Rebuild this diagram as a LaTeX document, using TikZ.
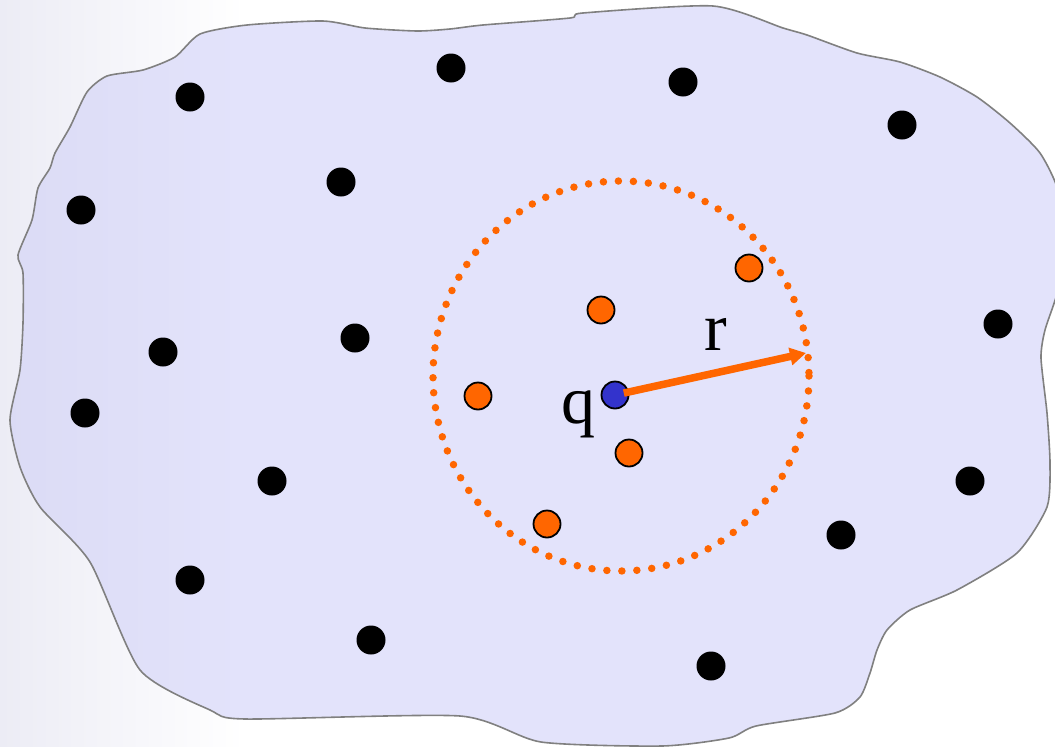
\documentclass[tikz,border=0pt]{standalone}
\usepackage{fontspec}
\setmainfont{Liberation Serif}
\usetikzlibrary{positioning, arrows.meta, calc}
\usepackage{xcolor}

\definecolor{lilla}{RGB}{227,227,251}
\definecolor{lillascuro}{RGB}{219,219,245}
\definecolor{sfondo}{RGB}{236,236,245}
\definecolor{bordogrigio}{RGB}{128,128,128}
\definecolor{arancio}{RGB}{255,102,0}
\definecolor{blu}{RGB}{51,51,204}

% contorno della regione
\def\regione{plot[smooth cycle, tension=0.4] coordinates {
  (107,76) (143,70) (175,57) (200,34) (247,25) (323,21) (365,28) (417,31)
  (450,29) (483,25) (570,18) (583,13) (713,6) (783,28) (807,35) (857,53)
  (900,62) (940,77) (977,97) (1010,123) (1040,153) (1058,190) (1064,240)
  (1058,290) (1045,330) (1041,358) (1047,413) (1050,463) (1047,507)
  (1017,553) (957,590) (910,610) (887,630) (877,650) (870,673) (860,697)
  (835,713) (756,726) (729,738) (662,746) (541,742) (460,716) (245,719)
  (210,710) (140,670) (90,562) (40,507) (20,467) (10,420) (20,370)
  (23,323) (23,273) (18,255) (32,220) (38,188) (50,168) (55,153)
  (70,127) (87,92)}}

\begin{document}
\begin{tikzpicture}[x=1pt, y=-1pt,
    punto/.style={circle, fill=black, minimum size=29pt, inner sep=0pt},
    vicino/.style={circle, draw=black, line width=1.8pt, fill=arancio, minimum size=27pt, inner sep=0pt},
    query/.style={circle, draw=black, line width=1.8pt, fill=blu, minimum size=27pt, inner sep=0pt},
    raggio/.style={-{Triangle[length=16pt, width=17pt]}, line width=7.5pt, arancio},
    etichetta/.style={font=\fontsize{68}{68}\selectfont, inner sep=0pt, anchor=base}
]
\useasboundingbox (0,0) rectangle (1055,747);
\clip (0,0) rectangle (1055,747);

% Sfondo
\fill[white] (0,0) rectangle (1055,747);
\shade[left color=sfondo, right color=white] (0,0) rectangle (245,747);

% Regione
\begin{scope}
\clip \regione;
\fill[lilla] (0,0) rectangle (1055,747);
\shade[left color=lillascuro, right color=lilla] (0,0) rectangle (245,747);
\end{scope}
\draw[bordogrigio, line width=1.6pt, line join=round] \regione;

% Punti lontani
\node[punto] (p1) at (190,97) {};
\node[punto] (p2) at (451,68) {};
\node[punto] (p3) at (683,82) {};
\node[punto] (p4) at (902,125) {};
\node[punto] (p5) at (341,182) {};
\node[punto] (p6) at (81,210) {};
\node[punto] (p7) at (355,338) {};
\node[punto] (p8) at (163,352) {};
\node[punto] (p9) at (85,413) {};
\node[punto] (p10) at (998,324) {};
\node[punto] (p11) at (272,481) {};
\node[punto] (p12) at (970,481) {};
\node[punto] (p13) at (841,535) {};
\node[punto] (p14) at (190,580) {};
\node[punto] (p15) at (371,640) {};
\node[punto] (p16) at (711,666) {};

% Punti vicini
\node[vicino] (v1) at (601,310) {};
\node[vicino] (v2) at (749,268) {};
\node[vicino] (v3) at (478,396) {};
\node[vicino] (v4) at (629,453) {};
\node[vicino] (v5) at (547,524) {};

% Cerchio di raggio r
\draw[arancio, line width=7.5pt, line cap=round, dash pattern=on 0pt off 15pt]
  (621,376) ellipse [x radius=188, y radius=195];

% Punto query e raggio
\node[query] (q) at (615,395) {};
\coordinate (bordo) at (806,353);
\draw[raggio, shorten <=9pt] (q.center) -- (bordo);

\node[etichetta] (lq) at (578,423) {q};
\node[etichetta] (lr) at (716,350) {r};

\end{tikzpicture}
\end{document}
